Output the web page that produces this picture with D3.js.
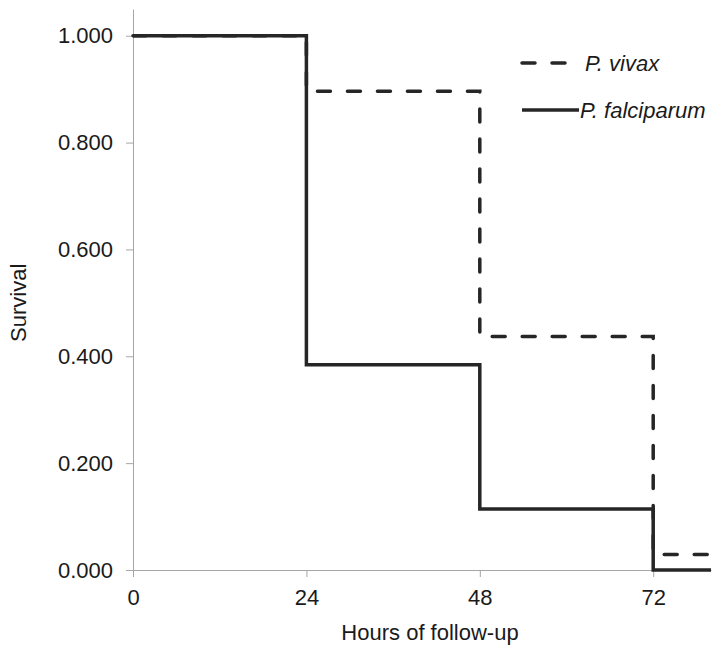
<!DOCTYPE html>
<html>
<head>
<meta charset="utf-8">
<script src="https://cdn.jsdelivr.net/npm/d3@7"></script>
<style>
  body { margin: 0; background: #fff; }
  text { font-family: "Liberation Sans", Arial, sans-serif; fill: #1a1a1a; }
</style>
</head>
<body>
<div id="chart"></div>
<script>
// Data
const hours = [0, 24, 48, 72, 80]
const vivax = [1.000, 0.896, 0.437, 0.029, 0.029]
const falciparum = [1.000, 0.384, 0.114, 0.000, 0.000]
const xTicks = [0, 24, 48, 72]
const yTicks = [0, 0.2, 0.4, 0.6, 0.8, 1.0]
const seriesNames = ['P. vivax', 'P. falciparum']

function draw() {
    let dimensions = {
        width: 719,
        height: 659,
        margin: { top: 9, bottom: 89, left: 133, right: 8 }
    }
    dimensions.ctrWidth = dimensions.width - dimensions.margin.left - dimensions.margin.right
    dimensions.ctrHeight = dimensions.height - dimensions.margin.top - dimensions.margin.bottom

    const svg = d3.select('#chart')
        .append('svg')
        .attr('width', dimensions.width)
        .attr('height', dimensions.height)

    const ctr = svg.append('g')
        .attr('transform', `translate(${dimensions.margin.left}, ${dimensions.margin.top})`)

    // Scales
    const xScale = d3.scaleLinear()
        .domain([0, 80])
        .range([0, dimensions.ctrWidth])

    const yScale = d3.scaleLinear()
        .domain([0, 1.05])
        .range([dimensions.ctrHeight, 0])

    const axisColor = '#a6a6a6'
    const fontSize = '22px'

    // y Axis
    const yAxis = d3.axisLeft(yScale)
        .tickValues(yTicks)
        .tickFormat(d3.format('.3f'))
        .tickSize(7)
        .tickPadding(13)
        .tickSizeOuter(0)

    const yAxisGroup = ctr.append('g').call(yAxis)
    yAxisGroup.select('.domain').attr('stroke', axisColor)
    yAxisGroup.selectAll('.tick line').attr('stroke', axisColor)
    yAxisGroup.selectAll('.tick text')
        .style('font-size', fontSize)
        .attr('fill', '#1a1a1a')
        .attr('font-family', null)

    // x Axis
    const xAxis = d3.axisBottom(xScale)
        .tickValues(xTicks)
        .tickSize(7)
        .tickPadding(12)
        .tickSizeOuter(0)

    const xAxisGroup = ctr.append('g')
        .attr('transform', `translate(0, ${dimensions.ctrHeight})`)
        .call(xAxis)
    xAxisGroup.select('.domain').attr('stroke', axisColor)
    xAxisGroup.selectAll('.tick line').attr('stroke', axisColor)
    xAxisGroup.selectAll('.tick text')
        .style('font-size', fontSize)
        .attr('fill', '#1a1a1a')
        .attr('font-family', null)

    // Lines
    const line = (vals) => d3.line()
        .x((d, i) => xScale(hours[i]))
        .y(d => yScale(d))
        .curve(d3.curveStepAfter)(vals)

    ctr.append('path')
        .attr('d', line(vivax))
        .attr('fill', 'none')
        .attr('stroke', '#262626')
        .attr('stroke-width', 3.5)
        .attr('stroke-dasharray', '13,17')
        .attr('stroke-linecap', 'round')

    ctr.append('path')
        .attr('d', line(falciparum))
        .attr('fill', 'none')
        .attr('stroke', '#262626')
        .attr('stroke-width', 3.5)

    // Axis labels
    svg.append('text')
        .attr('x', 430)
        .attr('y', 640)
        .attr('text-anchor', 'middle')
        .style('font-size', fontSize)
        .text('Hours of follow-up')

    svg.append('text')
        .attr('transform', `translate(26, ${dimensions.margin.top + yScale(0.5)}) rotate(-90)`)
        .attr('text-anchor', 'middle')
        .style('font-size', fontSize)
        .text('Survival')

    // Legend
    const legend = svg.append('g')
    const legendRows = [
        { name: seriesNames[0], y: 63, dash: '13,17', cap: 'round', x2: 567, tx: 585 },
        { name: seriesNames[1], y: 110, dash: null, cap: 'butt', x2: 579, tx: 580 }
    ]
    legendRows.forEach(r => {
        legend.append('line')
            .attr('x1', 522).attr('x2', r.x2)
            .attr('y1', r.y).attr('y2', r.y)
            .attr('stroke', '#262626')
            .attr('stroke-width', 3.5)
            .attr('stroke-dasharray', r.dash)
            .attr('stroke-linecap', r.cap)
        legend.append('text')
            .attr('x', r.tx)
            .attr('y', r.y)
            .attr('dy', '0.35em')
            .style('font-size', fontSize)
            .style('font-style', 'italic')
            .text(r.name)
    })
}

draw()
</script>
</body>
</html>
